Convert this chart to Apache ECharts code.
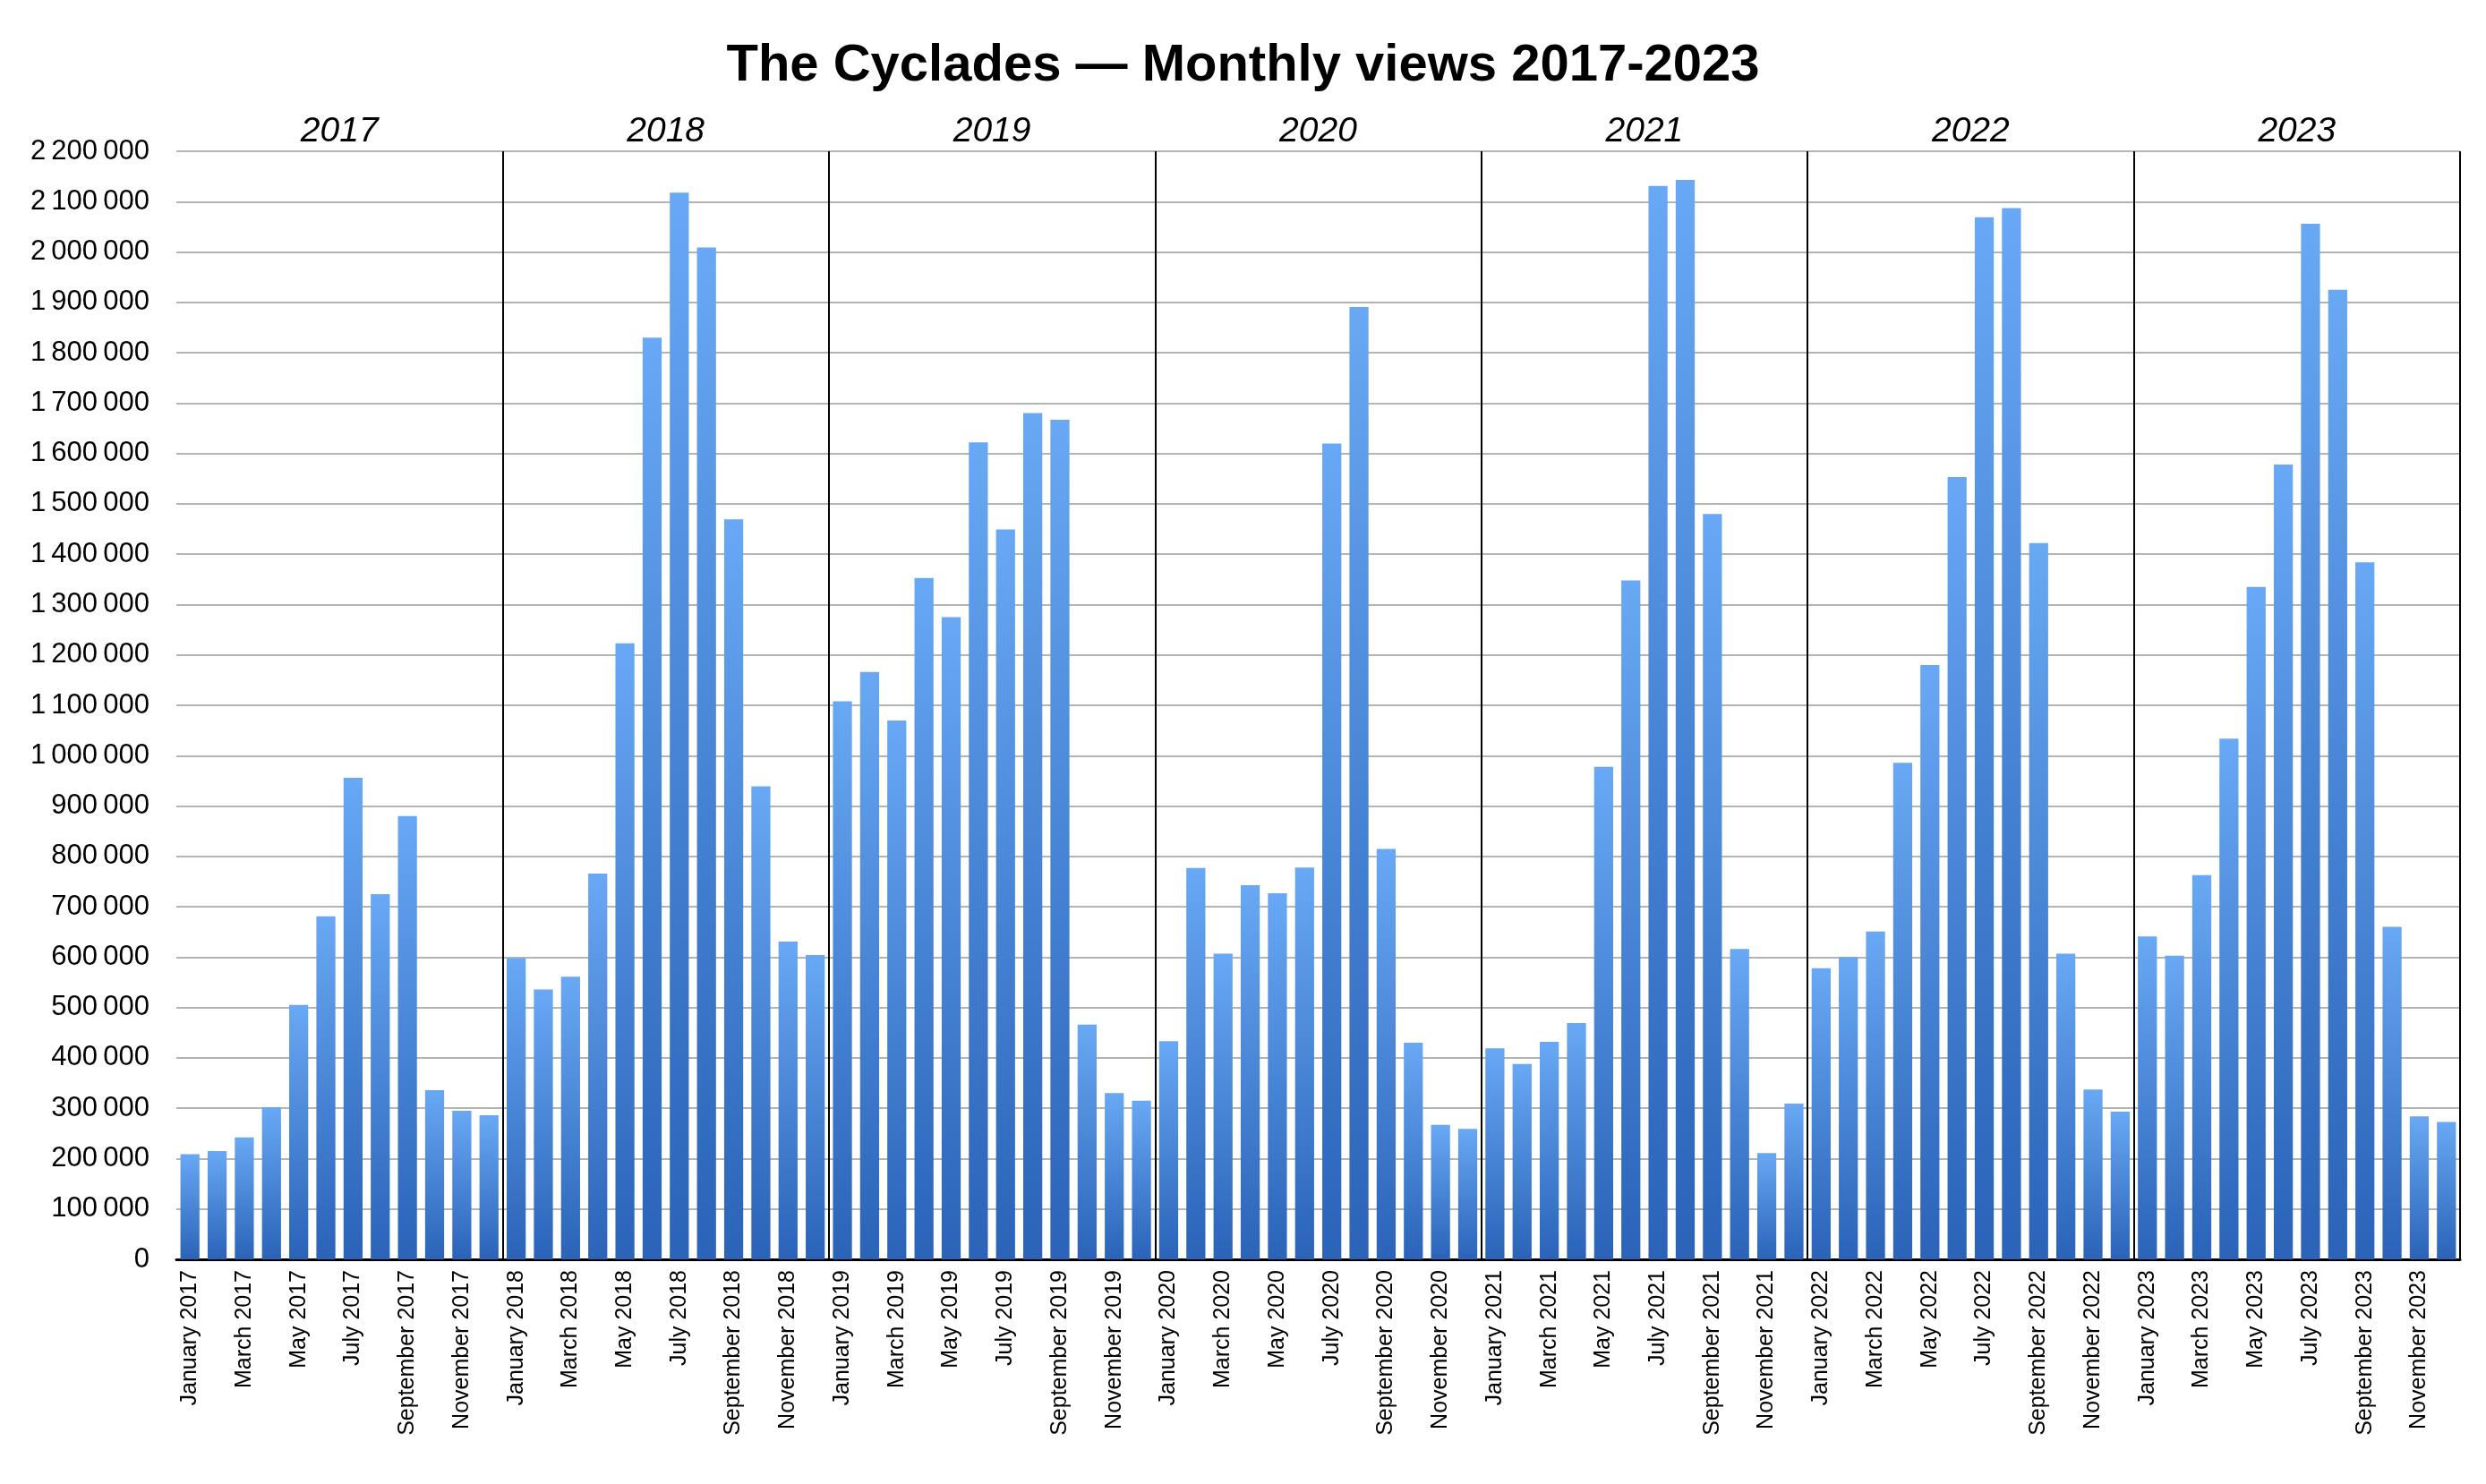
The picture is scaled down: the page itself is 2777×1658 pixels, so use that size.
<!DOCTYPE html>
<html>
<head>
<meta charset="utf-8">
<script src="https://cdn.jsdelivr.net/npm/echarts@6/dist/echarts.min.js"></script>
<style>
html,body{margin:0;padding:0;background:#fff;}
#chart{width:2777px;height:1658px;}
</style>
</head>
<body>
<div id="chart"></div>
<script>
const years = ['2017','2018','2019','2020','2021','2022','2023'];
const monthNames = ['January','February','March','April','May','June','July','August','September','October','November','December'];
const categories = [];
years.forEach(y => monthNames.forEach(m => categories.push(m + ' ' + y)));

const views2017 = [209000, 215000, 242000, 302000, 505000, 681000, 956000, 725000, 880000, 336000, 295000, 286000];
const views2018 = [598000, 536000, 561000, 766000, 1223000, 1830000, 2118000, 2009000, 1469000, 939000, 631000, 604000];
const views2019 = [1108000, 1166000, 1070000, 1353000, 1275000, 1622000, 1449000, 1680000, 1667000, 466000, 330000, 315000];
const views2020 = [433000, 777000, 607000, 743000, 727000, 778000, 1620000, 1891000, 815000, 430000, 267000, 259000];
const views2021 = [419000, 388000, 432000, 469000, 978000, 1348000, 2131000, 2143000, 1480000, 616000, 211000, 309000];
const views2022 = [578000, 600000, 651000, 986000, 1180000, 1553000, 2069000, 2087000, 1422000, 607000, 337000, 293000];
const views2023 = [641000, 603000, 763000, 1034000, 1335000, 1578000, 2056000, 1925000, 1384000, 660000, 284000, 273000];
const views = [].concat(views2017, views2018, views2019, views2020, views2021, views2022, views2023);

const FONT = '"Liberation Sans", Arial, Helvetica, sans-serif';
const chart = echarts.init(document.getElementById('chart'));
chart.setOption({
  backgroundColor: '#ffffff',
  animation: false,
  title: {
    text: 'The Cyclades \u2014 Monthly views 2017-2023',
    left: 'center',
    top: 40,
    textStyle: {fontFamily: FONT, fontWeight: 'bold', fontSize: 58, color: '#000'}
  },
  grid: {left: 197, right: 29, top: 169, bottom: 251, containLabel: false},
  xAxis: [{
    type: 'category',
    data: categories,
    boundaryGap: true,
    axisLine: {show: true, lineStyle: {color: '#000', width: 3}},
    axisTick: {show: false},
    axisLabel: {
      interval: 1, rotate: 90, fontFamily: FONT, fontSize: 25, color: '#000', margin: 12
    },
    splitLine: {
      show: true,
      interval: function (i) { return i > 0 && i % 12 === 0; },
      lineStyle: {color: '#000', width: 2}
    }
  }, {
    type: 'category',
    position: 'top',
    data: years,
    axisLine: {show: false},
    axisTick: {show: false},
    splitLine: {show: false},
    axisLabel: {fontFamily: FONT, fontSize: 39, fontStyle: 'italic', color: '#000', margin: 2}
  }],
  yAxis: {
    type: 'value',
    min: 0, max: 2200000, interval: 100000,
    axisLine: {show: false},
    axisTick: {show: false},
    axisLabel: {
      fontFamily: FONT, fontSize: 31, color: '#000', margin: 30,
      formatter: v => String(v).replace(/\B(?=(\d{3})+(?!\d))/g, '\u2009')
    },
    splitLine: {show: true, lineStyle: {color: '#b4b4b4', width: 2}}
  },
  series: [{
    type: 'bar',
    data: views,
    barWidth: '70%',
    itemStyle: {
      color: new echarts.graphic.LinearGradient(0, 0, 0, 1, [
        {offset: 0, color: '#68a8f4'},
        {offset: 1, color: '#2a63b8'}
      ])
    }
  }, {
    type: 'bar',
    xAxisIndex: 1,
    data: [],
    silent: true
  }]
});
</script>
</body>
</html>
